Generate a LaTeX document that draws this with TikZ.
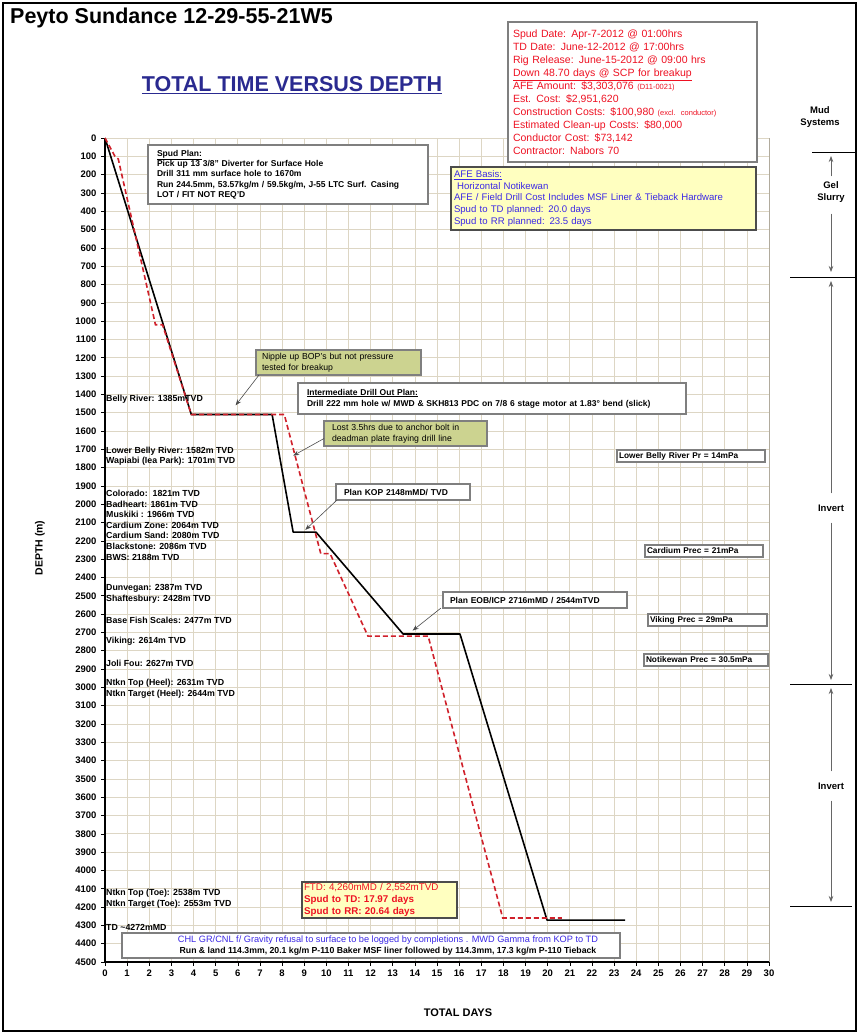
\documentclass[tikz,border=0pt]{standalone}
\usepackage{fontspec}
\setmainfont{Liberation Sans}
\usetikzlibrary{arrows.meta}
\definecolor{gridc}{HTML}{DDD6C4}
\definecolor{txtred}{HTML}{EE1122}
\definecolor{txtblue}{HTML}{3B28E6}
\definecolor{navy}{HTML}{2A2A90}
\definecolor{paleyellow}{HTML}{FFFFC0}
\definecolor{olivebox}{HTML}{CCD390}
\definecolor{dashred}{HTML}{D0202A}
\definecolor{boxedge}{HTML}{7F7F7F}
\newcommand\fsz[2]{\fontsize{#1}{#2}\selectfont}
\begin{document}
\begin{tikzpicture}[x=1pt,y=-1pt,
  box/.style={draw=boxedge, line width=1.1pt, fill=white, anchor=north west, align=left, inner ysep=0pt, outer sep=0pt},
  ybox/.style={box, fill=paleyellow},
  gbox/.style={box, fill=olivebox},
  flab/.style={anchor=west, font=\fsz{8.8}{10}\bfseries, inner sep=0pt},
  ticklab/.style={font=\fsz{9.5}{11}\bfseries, inner sep=0pt},
  gridline/.style={draw=gridc, line width=0.7pt},
  annot/.style={draw=black!70, line width=0.6pt, -{Stealth[length=6pt,width=4.5pt]}},
  mudarrow/.style={draw=black!60, line width=0.8pt, -{Stealth[length=6pt,width=4.5pt,fill=black]}},
  mudline/.style={draw=black, line width=0.9pt},
  actline/.style={draw=black, line width=1.6pt, line join=round},
  planline/.style={draw=dashred, line width=1.6pt, dash pattern=on 5pt off 3pt},
  mudtxt/.style={font=\fsz{9.5}{12}\bfseries, align=center, inner sep=1pt}
]
\useasboundingbox (0,0) rectangle (860,1034);
\fill[white] (0,0) rectangle (860,1034);
\draw[line width=1.4pt] (3,3) rectangle (856,1031);

% titles
\node[anchor=west, font=\fsz{21.5}{24}\bfseries, inner sep=0pt] (title) at (10,18) {Peyto Sundance 12-29-55-21W5};
\node[font=\fsz{21.5}{24}\bfseries, text=navy, inner sep=0pt] (maintitle) at (292,85) {\underline{TOTAL TIME VERSUS DEPTH}};

% chart
\begin{scope}[shift={(105,138)}, x=22.1333pt, y=-0.183111pt]
  \foreach \t in {1,...,30} { \draw[gridline] (\t,0) -- (\t,4500); }
  \foreach \d in {0,100,...,4400} { \draw[gridline] (0,\d) -- (30,\d); }
  \draw[gridc!80!black, line width=1pt] (30,0) -- (30,4500);
  \draw[line width=1.2pt] (0,0) -- (0,4500) -- (30,4500);
  \foreach \d in {0,100,...,4500} {
    \draw[line width=0.6pt] (0,\d) -- ++(-4pt,0);
    \node[ticklab, anchor=east] (yt\d) at (-0.38,\d) {\d};
  }
  \foreach \t in {0,...,30} {
    \draw[line width=0.6pt] (\t,4500) -- ++(0,-4pt);
    \node[ticklab] (xt\t) at (\t,4560) {\t};
  }
  \draw[actline] (0,0) -- (3.9,1510) -- (7.55,1510) -- (8.5,2152) -- (9.53,2152)
    -- (13.47,2709) -- (16.04,2709) -- (19.97,4271) -- (23.5,4271);
  \draw[planline] (0,0) -- (0.45,100) -- (0.6,115) -- (2.28,1020) -- (2.6,1020)
    -- (3.9,1510) -- (8.1,1510) -- (9.75,2270) -- (10.17,2270) -- (11.88,2720)
    -- (14.6,2720) -- (17.97,4260) -- (20.64,4260);
  \coordinate (nipTip) at (5.9,1460);
  \coordinate (lostTip) at (8.5,1735);
  \coordinate (kopTip) at (9.05,2140);
  \coordinate (eobTip) at (13.9,2690);
\end{scope}

\node[font=\fsz{10.5}{12}\bfseries, rotate=90, inner sep=0pt] (ylab) at (40,548) {DEPTH (m)};
\node[font=\fsz{11}{13}\bfseries, inner sep=0pt] (xlab) at (458,1013) {TOTAL DAYS};

% formation labels
\node[flab] (f1) at (106,399) {Belly River: 1385mTVD};
\node[flab] (f2) at (106,451) {Lower Belly River: 1582m TVD};
\node[flab] (f3) at (106,461.5) {Wapiabi (Iea Park): 1701m TVD};
\node[flab] (f4) at (106,493) {Colorado:\ \ 1821m TVD};
\node[flab] (f5) at (106,504) {Badheart: 1861m TVD};
\node[flab] (f6) at (106,514.5) {Muskiki : 1966m TVD};
\node[flab] (f7) at (106,525) {Cardium Zone: 2064m TVD};
\node[flab] (f8) at (106,535.5) {Cardium Sand: 2080m TVD};
\node[flab] (f9) at (106,546) {Blackstone: 2086m TVD};
\node[flab] (f10) at (106,557) {BWS: 2188m TVD};
\node[flab] (f11) at (106,588) {Dunvegan: 2387m TVD};
\node[flab] (f12) at (106,599) {Shaftesbury: 2428m TVD};
\node[flab] (f13) at (106,620) {Base Fish Scales: 2477m TVD};
\node[flab] (f14) at (106,641) {Viking: 2614m TVD};
\node[flab] (f15) at (106,663) {Joli Fou: 2627m TVD};
\node[flab] (f16) at (106,683) {Ntkn Top (Heel): 2631m TVD};
\node[flab] (f17) at (106,694) {Ntkn Target (Heel): 2644m TVD};
\node[flab] (f18) at (106,893) {Ntkn Top (Toe): 2538m TVD};
\node[flab] (f19) at (106,904) {Ntkn Target (Toe): 2553m TVD};
\node[flab] (f20) at (106,927) {TD \textasciitilde4272mMD};

% info box
\node[box, text=txtred, font=\fsz{10.5}{13}, text width=239pt, inner xsep=5pt, minimum height=140pt] (info) at (508,22) {%
Spud Date: Apr-7-2012 @ 01:00hrs\\
TD Date: June-12-2012 @ 17:00hrs\\
Rig Release: June-15-2012 @ 09:00 hrs\\
\underline{Down 48.70 days @ SCP for breakup}\\
AFE Amount: \$3,303,076 {\fsz{7.5}{13}(D11-0021)}\\
Est. Cost: \$2,951,620\\
Construction Costs: \$100,980 {\fsz{7.5}{13}(excl. conductor)}\\
Estimated Clean-up Costs: \$80,000\\
Conductor Cost: \$73,142\\
Contractor: Nabors 70};

% spud plan
\node[box, font=\fsz{8.5}{10.3}\bfseries, text width=262pt, inner xsep=9pt, minimum height=59pt] (spud) at (148,145) {%
\underline{Spud Plan:}\\
Pick up 13 3/8" Diverter for Surface Hole\\
Drill 311 mm surface hole to 1670m\\
Run 244.5mm, 53.57kg/m / 59.5kg/m, J-55 LTC Surf. Casing\\
LOT / FIT NOT REQ'D};

% AFE basis
\node[ybox, draw=black!70, text=txtblue, font=\fsz{9.6}{11.7}, text width=299pt, inner xsep=3pt, minimum height=63pt] (afe) at (451,167) {%
\underline{AFE Basis:}\\
\ Horizontal Notikewan\\
AFE / Field Drill Cost Includes MSF Liner \& Tieback Hardware\\
Spud to TD planned: 20.0 days\\
Spud to RR planned: 23.5 days};

% nipple up
\node[gbox, font=\fsz{8.7}{11}, text width=153pt, inner xsep=6pt, minimum height=25pt] (nip) at (256,350) {%
Nipple up BOP's but not pressure\\
tested for breakup};
\draw[annot] (nip.south west) ++(3,0) coordinate (nipStart) -- (nipTip);

% intermediate plan
\node[box, font=\fsz{8.5}{11}\bfseries, text width=370pt, inner xsep=9pt, minimum height=31pt] (inter) at (298,383) {%
\underline{Intermediate Drill Out Plan:}\\
Drill 222 mm hole w/ MWD \& SKH813 PDC on 7/8 6 stage motor at 1.83° bend (slick)};

% lost time
\node[gbox, font=\fsz{8.7}{11}, text width=147pt, inner xsep=8pt, minimum height=25pt] (lost) at (324,421) {%
Lost 3.5hrs due to anchor bolt in\\
deadman plate fraying drill line};
\draw[annot] (lost.west) ++(0,5) coordinate (lostStart) -- (lostTip);

% KOP
\node[box, font=\fsz{8.5}{10}\bfseries, text width=118pt, inner xsep=8pt, minimum height=16pt] (kop) at (336,484) {Plan KOP 2148mMD/ TVD};
\draw[annot] (kop.south west) ++(1,0) coordinate (kopStart) -- (kopTip);

% EOB
\node[box, font=\fsz{8.5}{10}\bfseries, text width=170pt, inner xsep=7pt, minimum height=16pt] (eob) at (443,592) {Plan EOB/ICP 2716mMD / 2544mTVD};
\draw[annot] (eob.south west) ++(-2,0) coordinate (eobStart) -- (eobTip);

% pressure boxes
\node[box, font=\fsz{8.3}{10}\bfseries, text width=144pt, inner xsep=2pt, minimum height=12pt] (p1) at (617,450) {Lower Belly River Pr = 14mPa};
\node[box, font=\fsz{8.3}{10}\bfseries, text width=114pt, inner xsep=2pt, minimum height=12pt] (p2) at (645,545) {Cardium Prec = 21mPa};
\node[box, font=\fsz{8.3}{10}\bfseries, text width=115pt, inner xsep=2pt, minimum height=12pt] (p3) at (648,614) {Viking Prec = 29mPa};
\node[box, font=\fsz{8.3}{10}\bfseries, text width=120pt, inner xsep=2pt, minimum height=12pt] (p4) at (644,654) {Notikewan Prec = 30.5mPa};

% FTD box
\node[ybox, draw=black!70, text=txtred, font=\fsz{9.8}{12}, text width=151pt, inner xsep=2pt, minimum height=36pt] (ftd) at (302,882) {%
FTD: 4,260mMD / 2,552mTVD\\
\textbf{Spud to TD: 17.97 days}\\
\textbf{Spud to RR: 20.64 days}};

% bottom box
\node[box, minimum width=498pt, minimum height=25pt] (bottom) at (122,933) {};
\node[font=\fsz{9.2}{10}, text=txtblue, inner sep=0pt] (bot1) at (388,940) {CHL GR/CNL f/ Gravity refusal to surface to be logged by completions . MWD Gamma from KOP to TD};
\node[font=\fsz{8.7}{10}\bfseries, inner sep=0pt] (bot2) at (388,951) {Run \& land 114.3mm, 20.1 kg/m P-110 Baker MSF liner followed by 114.3mm, 17.3 kg/m P-110 Tieback};

% mud systems
\node[mudtxt] (mud) at (820,117) {Mud\\Systems};
\draw[mudline] (812,152) -- (855,152);
\draw[mudline] (790,277) -- (855,277);
\draw[mudline] (790,684) -- (852,684);
\draw[mudline] (790,906) -- (852,906);

\node[mudtxt] (gel) at (831,192) {Gel\\Slurry};
\coordinate (gelTop) at (831,156);
\coordinate (gelBot) at (831,272);
\draw[mudarrow, shorten <=4pt] (gel.north) -- (gelTop);
\draw[mudarrow, shorten <=10pt] (gel.south) -- (gelBot);

\node[mudtxt] (inv1) at (831,508) {Invert};
\coordinate (inv1Top) at (831,281);
\coordinate (inv1Bot) at (831,680);
\draw[mudarrow, shorten <=10pt] (inv1.north) -- (inv1Top);
\draw[mudarrow, shorten <=10pt] (inv1.south) -- (inv1Bot);

\node[mudtxt] (inv2) at (831,786) {Invert};
\coordinate (inv2Top) at (831,688);
\coordinate (inv2Bot) at (831,902);
\draw[mudarrow, shorten <=10pt] (inv2.north) -- (inv2Top);
\draw[mudarrow, shorten <=10pt] (inv2.south) -- (inv2Bot);
\end{tikzpicture}
\end{document}
